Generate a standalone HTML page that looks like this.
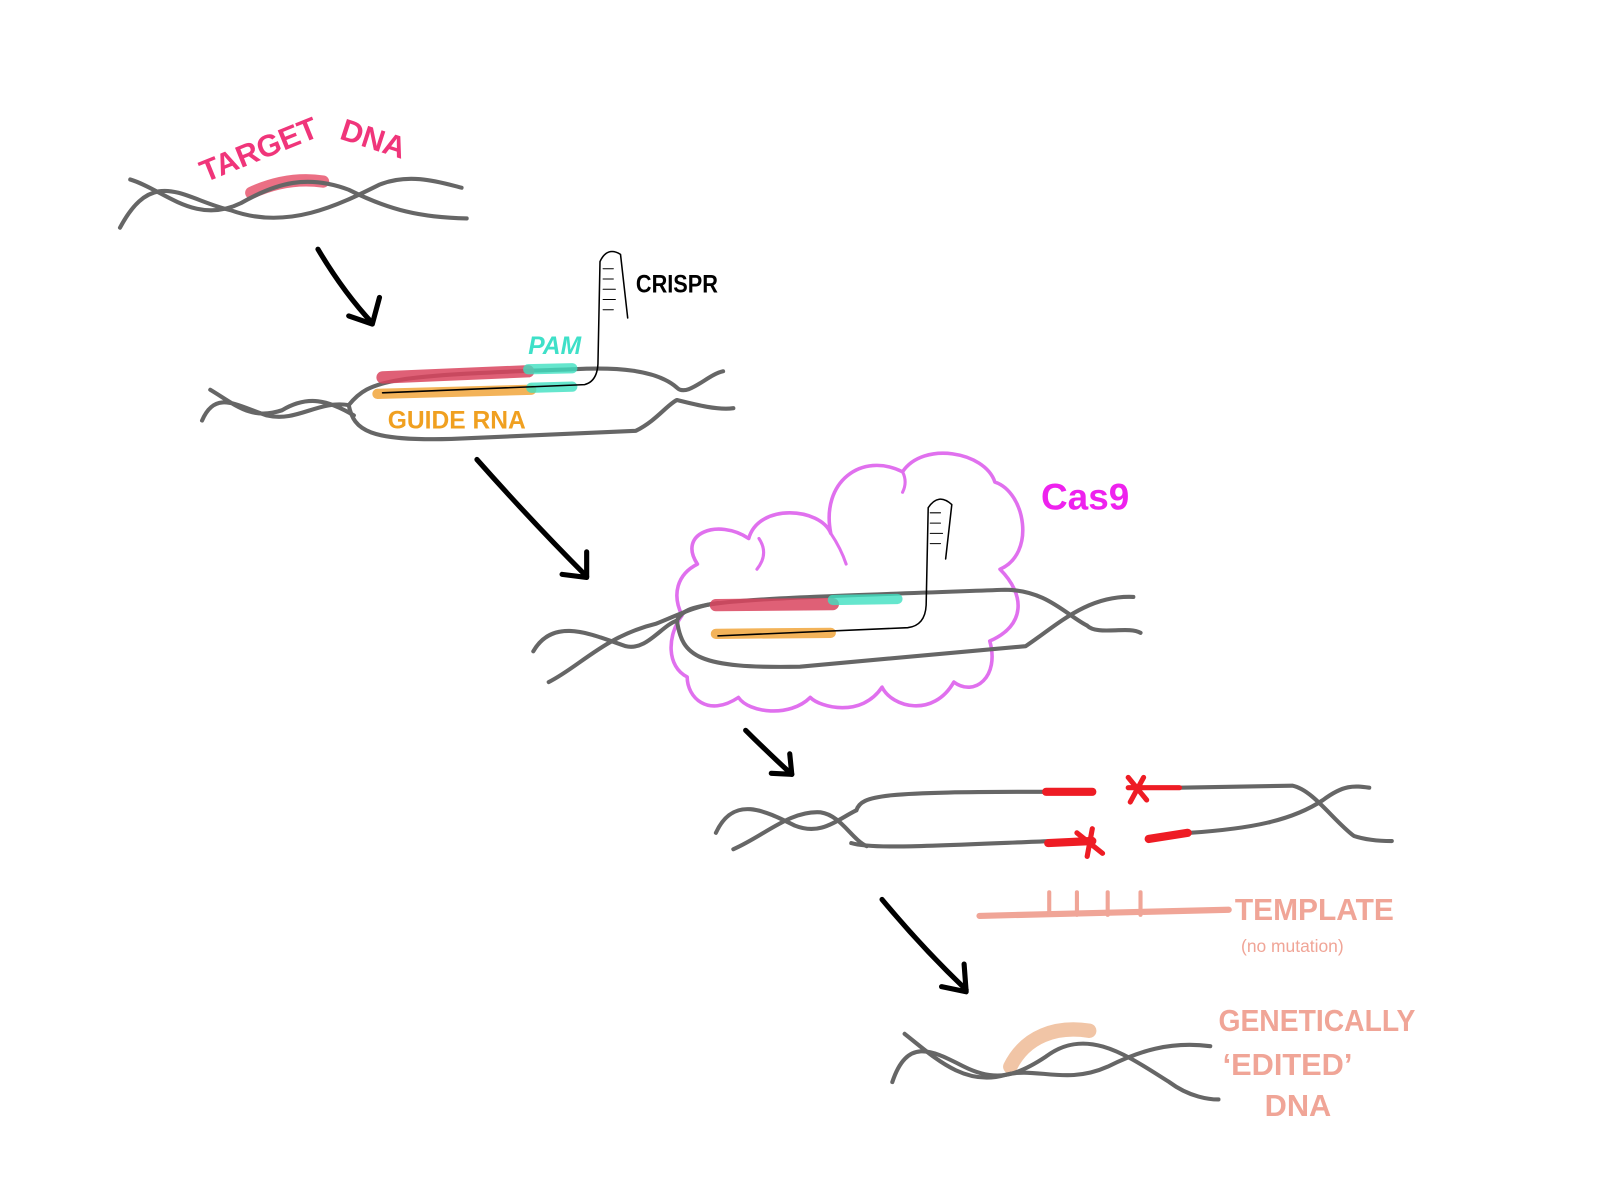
<!DOCTYPE html>
<html><head><style>html,body{margin:0;padding:0;background:#fff;}svg{display:block}</style></head>
<body>
<svg width="1600" height="1200" viewBox="0 0 1560 1170" preserveAspectRatio="none" xmlns="http://www.w3.org/2000/svg" font-family="Liberation Sans, sans-serif">
<g fill="none" stroke-linecap="round" stroke-linejoin="round">
<path d="M245 188 Q280 172 315 177" stroke="#e8566e" stroke-width="12" opacity="0.85"/>
<path d="M117 222 C150 160 180 195 225 205 C280 225 330 200 370 180 C400 168 430 178 450 183" stroke="#666" stroke-width="4"/>
<path d="M127 175 C160 185 190 220 235 198 C270 178 300 170 340 185 C380 205 410 212 455 213" stroke="#666" stroke-width="4"/>
<path d="M310 243 Q335 285 363 315" stroke="#000" stroke-width="5"/>
<path d="M340 308 L363 316 L370 290" stroke="#000" stroke-width="5"/>
<path d="M197 410 C210 380 230 395 260 405 C290 412 310 390 340 395 M205 380 C230 395 245 410 275 400 C300 385 320 390 345 405" stroke="#666" stroke-width="4"/>
<path d="M340 395 C360 370 380 366 560 360 C600 358 640 360 660 378 C670 388 690 365 705 362" stroke="#666" stroke-width="4"/>
<path d="M340 395 C345 420 360 430 440 428 L620 420 C640 410 650 395 660 390 C680 395 700 400 715 398" stroke="#666" stroke-width="4"/>
<path d="M373 368 L515 362" stroke="#d9445e" stroke-width="12" opacity="0.85"/>
<path d="M515 360 L558 359" stroke="#3ee0c0" stroke-width="10" opacity="0.8"/>
<path d="M368 384 L518 380" stroke="#f0a030" stroke-width="10" opacity="0.8"/>
<path d="M518 378 L558 377" stroke="#3ee0c0" stroke-width="10" opacity="0.8"/>
<path d="M373 383 L570 375 Q582 372 583 355 L585 255 Q592 240 605 248 L612 310" stroke="#000" stroke-width="1.5"/>
<path d="M588 262h10M588 272h10M588 282h12M588 292h12M588 302h10" stroke="#000" stroke-width="1"/>
<path d="M465 448 Q520 510 572 562" stroke="#000" stroke-width="5"/>
<path d="M548 560 L572 563 L572 538" stroke="#000" stroke-width="5"/>
<path d="M680 550 C660 520 700 505 730 525 C740 490 800 495 810 520 C800 470 840 440 880 460 C900 430 960 440 970 470 C1000 480 1010 540 975 555 C1000 580 1000 610 965 625 C975 660 950 680 930 665 C910 700 870 690 860 670 C840 700 800 690 790 680 C770 700 730 695 720 680 C690 700 670 680 670 660 C650 650 650 620 665 600 C655 580 660 560 680 550 Z" stroke="#e070ee" stroke-width="3.5"/>
<path d="M740 525 q10 15 -2 30 M810 520 q10 15 15 30 M880 460 q5 10 0 20" stroke="#e070ee" stroke-width="3"/>
<path d="M520 635 C540 600 580 620 610 630 C630 635 645 610 660 605 M535 665 C565 650 590 620 640 608 C660 600 680 590 700 588" stroke="#666" stroke-width="4"/>
<path d="M660 605 C670 585 700 585 980 575 C1020 575 1040 600 1060 610 C1070 620 1100 610 1112 617" stroke="#666" stroke-width="4"/>
<path d="M660 605 C665 640 680 652 780 650 L1000 630 C1030 610 1060 580 1105 582" stroke="#666" stroke-width="4"/>
<path d="M698 590 L812 589" stroke="#d9445e" stroke-width="12" opacity="0.85"/>
<path d="M812 585 L875 584" stroke="#3ee0c0" stroke-width="10" opacity="0.8"/>
<path d="M698 618 L810 617" stroke="#f0a030" stroke-width="10" opacity="0.8"/>
<path d="M700 620 L885 612 Q902 610 903 590 L905 495 Q915 480 928 492 L922 545" stroke="#000" stroke-width="1.5"/>
<path d="M907 500h10M907 510h10M907 520h12M907 530h10" stroke="#000" stroke-width="1"/>
<path d="M727 712 Q750 735 772 755" stroke="#000" stroke-width="5"/>
<path d="M752 754 L772 755 L770 735" stroke="#000" stroke-width="5"/>
<path d="M698 812 C715 775 745 790 775 805 C800 815 815 800 835 790 M715 828 C745 815 770 790 800 792 C820 795 830 818 845 825" stroke="#666" stroke-width="4"/>
<path d="M835 790 C840 775 860 772 1020 772 M1150 768 L1260 766 C1280 770 1300 800 1320 815 C1335 820 1350 820 1357 820" stroke="#666" stroke-width="4"/>
<path d="M830 822 C850 828 900 825 1025 820 M1160 812 C1220 808 1260 800 1290 780 C1310 765 1320 766 1335 768" stroke="#666" stroke-width="4"/>
<path d="M1020 772 L1065 772 M1022 822 L1065 820 M1120 818 L1158 812" stroke="#ee1c24" stroke-width="8"/>
<path d="M1100 768 L1150 768 M1100 758 L1118 780 M1115 758 L1102 782 M1050 812 L1075 832 M1065 808 L1060 835" stroke="#ee1c24" stroke-width="5"/>
<path d="M955 893 L1198 887" stroke="#f0a597" stroke-width="6"/>
<path d="M1023 870v22M1050 870v22M1080 870v22M1112 870v22" stroke="#f0a597" stroke-width="4"/>
<path d="M860 877 Q900 925 942 965" stroke="#000" stroke-width="5"/>
<path d="M918 962 L942 967 L940 940" stroke="#000" stroke-width="5"/>
<path d="M985 1040 C1000 1010 1030 1000 1062 1005" stroke="#f0bf9c" stroke-width="14" opacity="0.9"/>
<path d="M870 1055 C885 1010 910 1025 940 1040 C970 1055 990 1050 1020 1030 C1060 1000 1100 1030 1140 1055 C1160 1070 1180 1072 1188 1072" stroke="#666" stroke-width="4"/>
<path d="M882 1008 C910 1030 940 1060 980 1048 C1010 1040 1040 1058 1080 1040 C1110 1025 1140 1015 1180 1020" stroke="#666" stroke-width="4"/>
</g>
<g font-weight="bold">
<text x="200" y="178" fill="#f0357a" font-size="30" transform="rotate(-22 200 178)">TARGET</text>
<text x="330" y="135" fill="#f0357a" font-size="30" transform="rotate(18 330 135)">DNA</text>
<text x="620" y="285" fill="#000" font-size="24" textLength="80" lengthAdjust="spacingAndGlyphs">CRISPR</text>
<text x="515" y="345" fill="#3ee0c8" font-size="24" font-style="italic">PAM</text>
<text x="378" y="418" fill="#f0a020" font-size="24">GUIDE RNA</text>
<text x="1015" y="497" fill="#ee22ee" font-size="36">Cas9</text>
<text x="1204" y="897" fill="#f0a597" font-size="30" textLength="155" lengthAdjust="spacingAndGlyphs">TEMPLATE</text>
<text x="1188" y="1005" fill="#f0a597" font-size="30" textLength="192" lengthAdjust="spacingAndGlyphs">GENETICALLY</text>
<text x="1192" y="1048" fill="#f0a597" font-size="30">‘EDITED’</text>
<text x="1233" y="1088" fill="#f0a597" font-size="30">DNA</text>
</g>
<text x="1210" y="928" fill="#f0a597" font-size="17">(no mutation)</text>
</svg>
</body></html>
